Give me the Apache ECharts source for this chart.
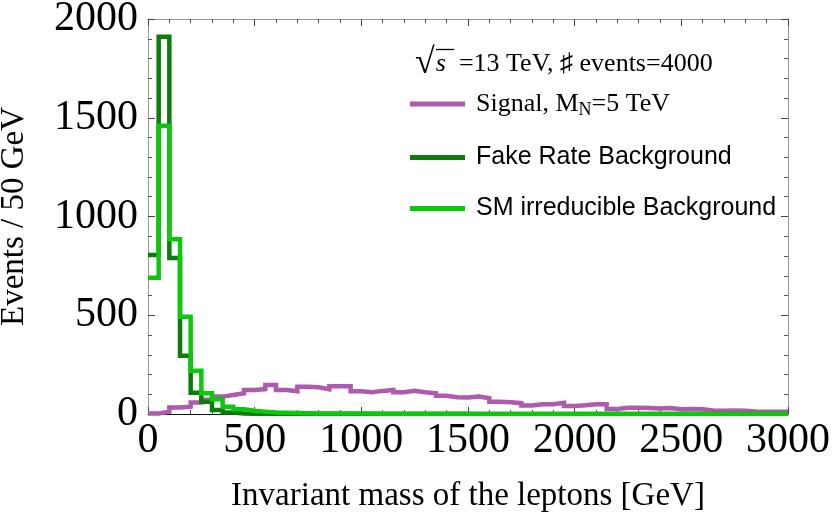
<!DOCTYPE html>
<html>
<head>
<meta charset="utf-8">
<title>Invariant mass of the leptons</title>
<script src="https://cdn.jsdelivr.net/npm/echarts@6/dist/echarts.min.js"></script>
<style>
  html, body { margin: 0; padding: 0; background: #fff; }
  #chart { width: 832px; height: 517px; }
</style>
</head>
<body>
<div id="chart"></div>
<script>
// histogram bins are 50 GeV wide, starting at 0
const binWidth = 50;

// events per bin
const signal = [
  3, 12, 33, 37, 58, 72, 88, 96, 105, 122,
  126, 147, 122, 115, 138, 135, 125, 140, 140, 115,
  110, 117, 122, 110, 117, 110, 105, 92, 85, 83,
  88, 80, 62, 60, 55, 43, 49, 49, 57, 41,
  44, 49, 49, 25, 32, 32, 30, 28, 30, 24,
  25, 24, 18, 17, 18, 16, 13, 12, 12, 12
];
const fakeRate = [
  805, 1910, 790, 295, 108, 62, 20, 7, 2, 1,
  0, 0, 0, 0, 0, 0, 0, 0, 0, 0,
  0, 0, 0, 0, 0, 0, 0, 0, 0, 0,
  0, 0, 0, 0, 0, 0, 0, 0, 0, 0,
  0, 0, 0, 0, 0, 0, 0, 0, 0, 0,
  0, 0, 0, 0, 0, 0, 0, 0, 0, 0
];
const smIrreducible = [
  690, 1460, 885, 492, 219, 105, 75, 37, 24, 17,
  12, 8, 6, 5, 4, 3, 3, 2, 2, 2,
  2, 1, 1, 1, 1, 1, 1, 1, 1, 1,
  0, 0, 0, 0, 0, 0, 0, 0, 0, 0,
  0, 0, 0, 0, 0, 0, 0, 0, 0, 0,
  0, 0, 0, 0, 0, 0, 0, 0, 0, 0
];

const seriesNames = ['Signal', 'Fake Rate Background', 'SM irreducible Background'];
const seriesColors = ['#ae5aae', '#0a7d0a', '#0cc80c'];

const xRange = [0, 3000];
const yRange = [0, 2000];
const tickStep = 500;

const serif = '"Liberation Serif", "Times New Roman", serif';
const sans = '"Liberation Sans", Arial, sans-serif';

// step line from the bin left edges, closed at the last edge
function stepData(values) {
  const pts = values.map((v, i) => [i * binWidth, v]);
  pts.push([values.length * binWidth, values[values.length - 1]]);
  return pts;
}

function histSeries(idx, values, z) {
  return {
    name: seriesNames[idx],
    type: 'line',
    step: 'end',
    data: stepData(values),
    showSymbol: false,
    silent: true,
    z: z,
    itemStyle: { color: seriesColors[idx] },
    lineStyle: { color: seriesColors[idx], width: 4.5, join: 'miter', cap: 'butt' }
  };
}

const frameTick = {
  inside: true, length: 7, lineStyle: { color: '#444', width: 1 }
};
const frameMinor = {
  show: true, splitNumber: 5, length: 4, lineStyle: { color: '#555', width: 1 }
};
const plainNumber = v => String(v);

// one legend box per entry so each row sits where the original has it
function legendBox(idx, top, formatter, rich) {
  return {
    data: [seriesNames[idx]],
    left: 410, top: top, padding: 0,
    icon: 'rect', itemWidth: 55, itemHeight: 5,
    formatter: formatter,
    textStyle: { rich: rich }
  };
}

const sansRich = {
  b: { fontFamily: sans, fontSize: 25, color: '#000', lineHeight: 30, padding: [0, 0, 0, 6] }
};

const chart = echarts.init(document.getElementById('chart'));

chart.setOption({
  animation: false,
  backgroundColor: '#fff',
  grid: { left: 148, right: 44, top: 19, bottom: 103, containLabel: false, outerBoundsMode: 'none' },
  title: {
    text: '{r|√}{s|s}{t|  =13 TeV, ♯ events=4000}',
    left: 415,
    top: 46,
    padding: 0,
    textStyle: {
      fontWeight: 'normal',
      rich: {
        r: { fontFamily: serif, fontSize: 36, fontWeight: 'normal', color: '#000', lineHeight: 36 },
        s: { fontFamily: serif, fontSize: 26, fontWeight: 'normal', fontStyle: 'italic', color: '#000', lineHeight: 36, padding: [0, 0, 0, 1] },
        t: { fontFamily: serif, fontSize: 26, fontWeight: 'normal', color: '#000', lineHeight: 36 }
      }
    }
  },
  graphic: [
    // overbar of the square root
    { type: 'line', shape: { x1: 436, y1: 49.5, x2: 454, y2: 49.5 }, style: { stroke: '#000', lineWidth: 1.3 }, silent: true }
  ],
  legend: [
    legendBox(0, 91, () => '{a|Signal, M}{sub|N}{c|=5 TeV}', {
      a: { fontFamily: serif, fontSize: 26, color: '#000', lineHeight: 30, padding: [0, 0, 0, 6] },
      c: { fontFamily: serif, fontSize: 26, color: '#000', lineHeight: 30 },
      sub: { fontFamily: serif, fontSize: 18, color: '#000', lineHeight: 16, verticalAlign: 'bottom' }
    }),
    legendBox(1, 145, name => '{b|' + name + '}', sansRich),
    legendBox(2, 196, name => '{b|' + name + '}', sansRich)
  ],
  xAxis: [
    {
      type: 'value',
      position: 'bottom',
      min: xRange[0], max: xRange[1], interval: tickStep,
      axisLine: { show: true, onZero: false, lineStyle: { color: '#111', width: 1 } },
      axisTick: frameTick,
      minorTick: frameMinor,
      splitLine: { show: false },
      axisLabel: { fontFamily: serif, fontSize: 42, color: '#000', margin: 6, formatter: plainNumber },
      name: 'Invariant mass of the leptons [GeV]',
      nameLocation: 'middle',
      nameGap: 66,
      nameTextStyle: { fontFamily: serif, fontSize: 33, color: '#000' }
    },
    {
      type: 'value',
      position: 'top',
      min: xRange[0], max: xRange[1], interval: tickStep,
      axisLine: { show: true, onZero: false, lineStyle: { color: '#999', width: 1 } },
      axisTick: frameTick,
      minorTick: frameMinor,
      splitLine: { show: false },
      axisLabel: { show: false }
    }
  ],
  yAxis: [
    {
      type: 'value',
      position: 'left',
      min: yRange[0], max: yRange[1], interval: tickStep,
      axisLine: { show: true, onZero: false, lineStyle: { color: '#999', width: 1 } },
      axisTick: frameTick,
      minorTick: frameMinor,
      splitLine: { show: false },
      axisLabel: { fontFamily: serif, fontSize: 42, color: '#000', margin: 10, formatter: plainNumber },
      name: 'Events / 50 GeV',
      nameLocation: 'middle',
      nameGap: 117,
      nameTextStyle: { fontFamily: serif, fontSize: 33, color: '#000' }
    },
    {
      type: 'value',
      position: 'right',
      min: yRange[0], max: yRange[1], interval: tickStep,
      axisLine: { show: true, onZero: false, lineStyle: { color: '#999', width: 1 } },
      axisTick: frameTick,
      minorTick: frameMinor,
      splitLine: { show: false },
      axisLabel: { show: false }
    }
  ],
  series: [
    histSeries(0, signal, 2),
    histSeries(1, fakeRate, 3),
    histSeries(2, smIrreducible, 4)
  ]
});
</script>
</body>
</html>
